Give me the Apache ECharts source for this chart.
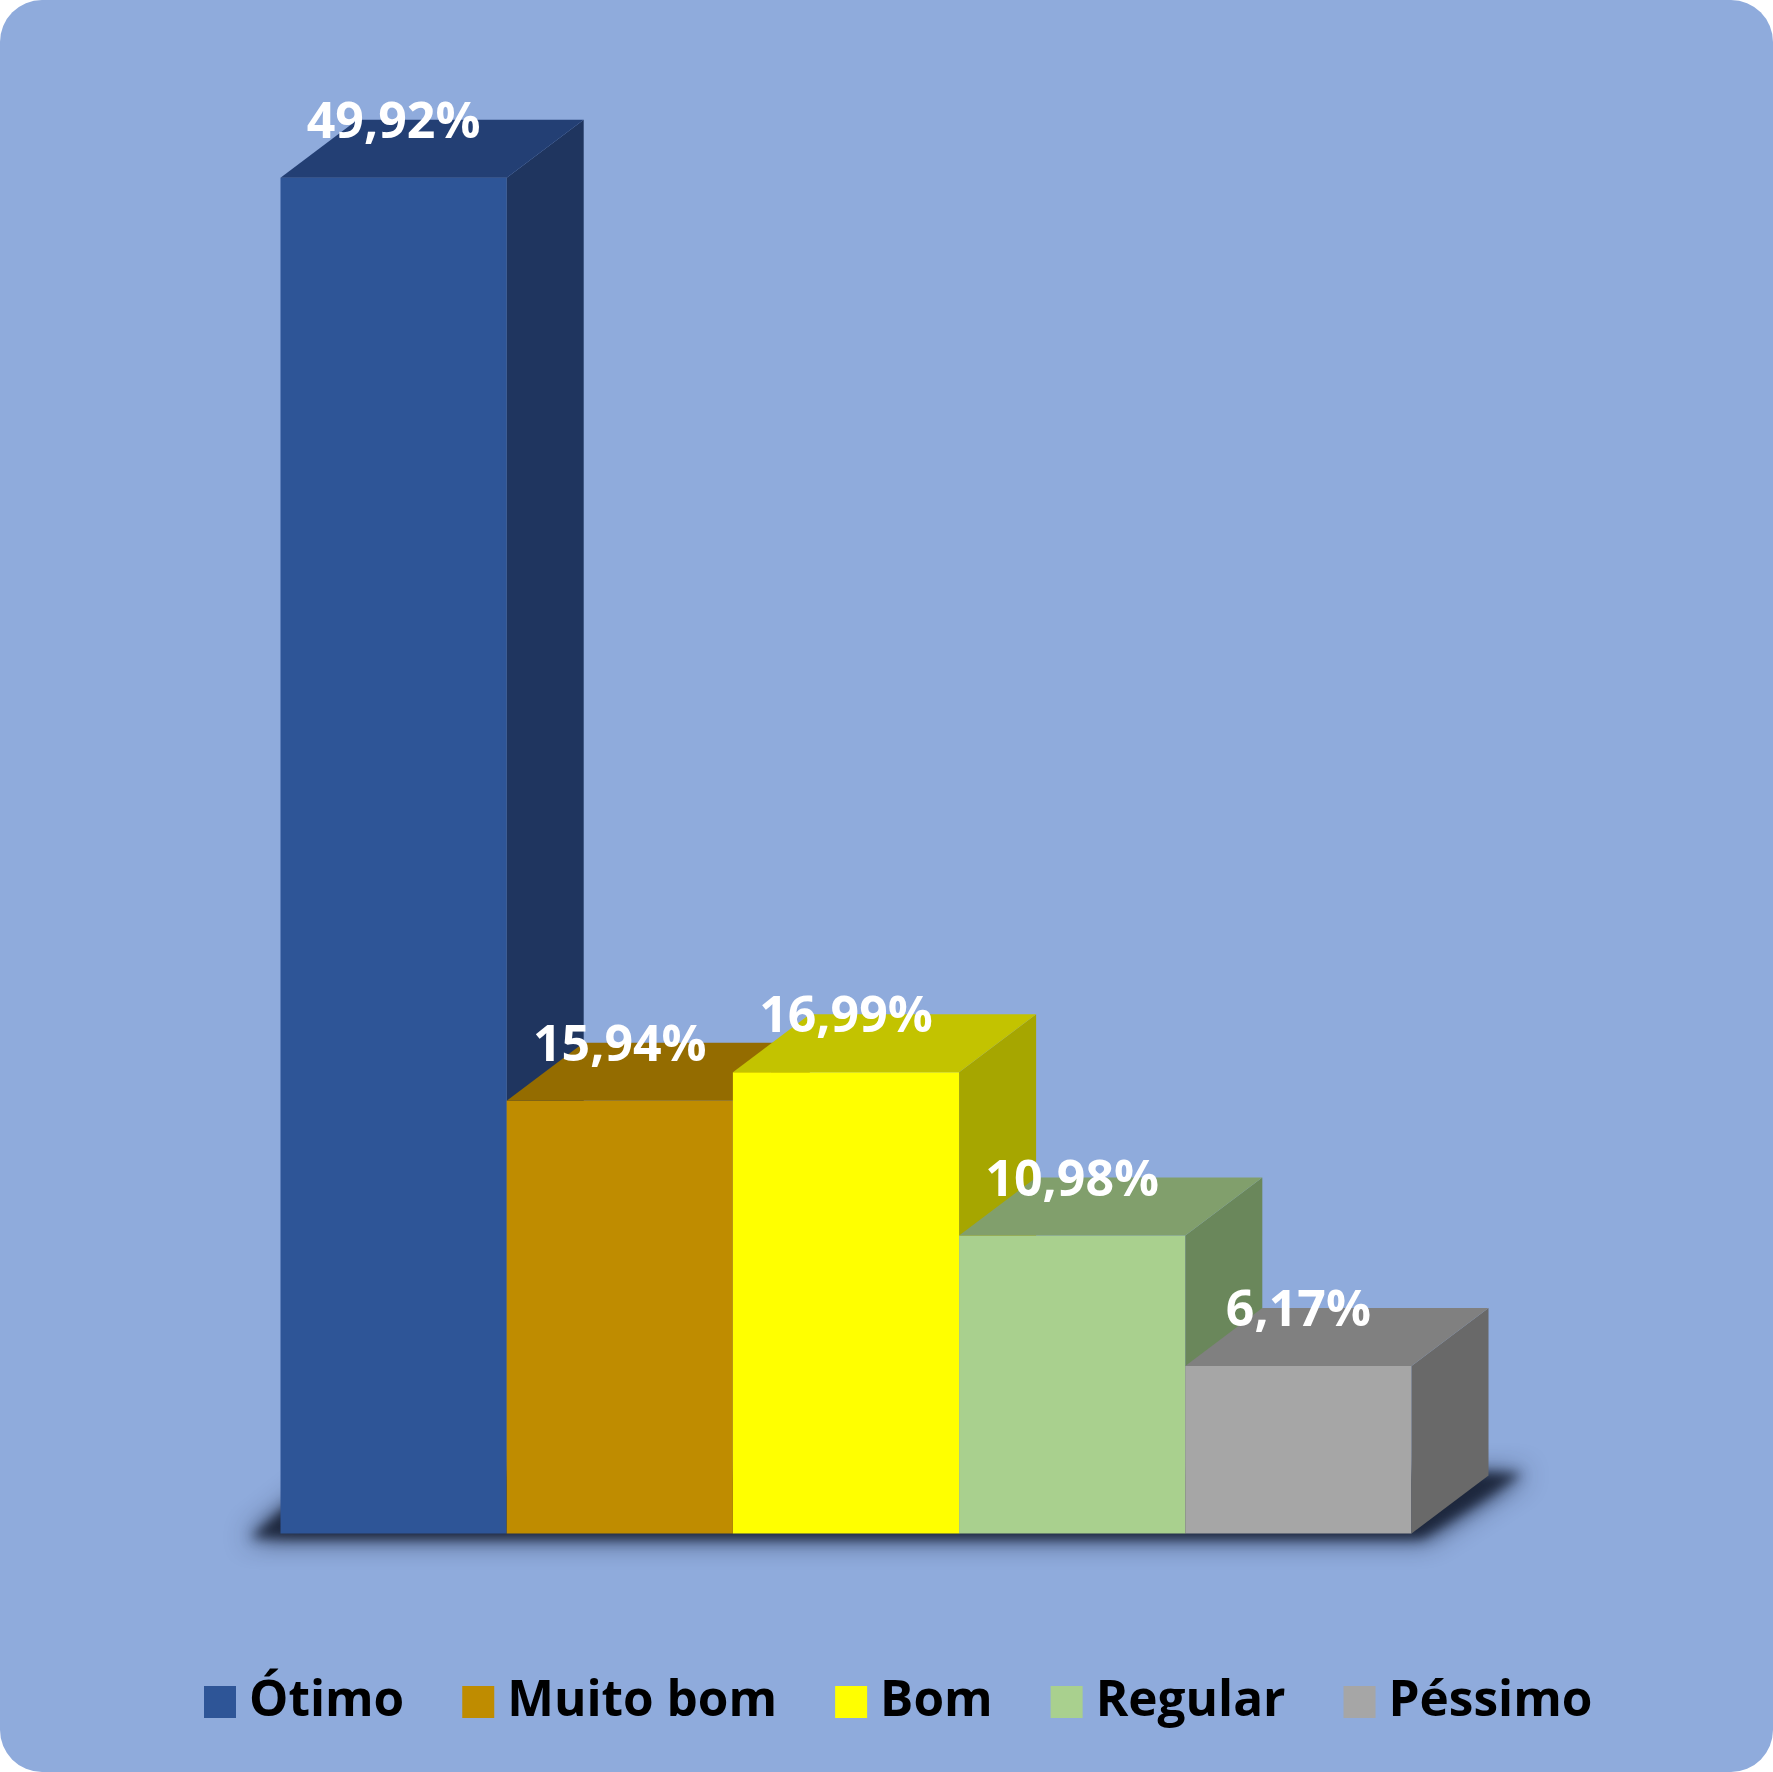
<!DOCTYPE html>
<html>
<head>
<meta charset="utf-8">
<script src="https://cdn.jsdelivr.net/npm/echarts/dist/echarts.min.js"></script>
<style>
html,body{margin:0;padding:0;background:#ffffff;}
#c{width:1773px;height:1772px;background:#8FABDC;border-radius:42px;overflow:hidden;}
</style>
</head>
<body>
<div id="c"></div>
<script>
const categories = ['Ótimo', 'Muito bom', 'Bom', 'Regular', 'Péssimo'];
const values = [49.92, 15.94, 16.99, 10.98, 6.17];
const frontColors = ['#2E5597', '#BF8C00', '#FFFF00', '#A9D08E', '#A6A6A6'];
const topColors = ['#233F74', '#946C00', '#C3C300', '#819F6C', '#808080'];
const sideColors = ['#1F355F', '#7A5A00', '#A6A600', '#6A875B', '#696969'];

const DX = 77, DY = 58;
const OFF = 3000;
function fmt(v) { return v.toFixed(2).replace('.', ',') + '%'; }

const chart = echarts.init(document.getElementById('c'), null, {renderer: 'canvas', devicePixelRatio: 1});

function shadowPoly(L, R, B, grow) {
  const pts = [[L - 30 - grow, B + 4 + grow / 3], [R + 10 + grow, B + 4 + grow / 3], [R + DX + 34 + grow, B - DY - 2], [L + DX - 30, B - DY]];
  return pts.map(function (p) { return [p[0], p[1] + OFF]; });
}

const series = [{
  type: 'custom',
  name: 'shadow',
  silent: true,
  z: 1,
  clip: false,
  data: [[0, 0]],
  renderItem: function (params, api) {
    const w = api.size([1, 0])[0];
    const a = api.coord([0, 0]);
    const b = api.coord([categories.length - 1, 0]);
    const L = a[0] - w / 2, R = b[0] + w / 2, B = a[1];
    return {
      type: 'group',
      children: [
        {type: 'polygon', shape: {points: shadowPoly(L, R, B, 4)},
          style: {fill: '#1f2a44', shadowBlur: 26, shadowOffsetY: -OFF, shadowColor: 'rgba(28,38,62,0.9)'}},
        {type: 'polygon', shape: {points: shadowPoly(L, R, B, 0)},
          style: {fill: '#1f2a44', shadowBlur: 12, shadowOffsetY: -OFF, shadowColor: 'rgba(30,40,62,1)'}}
      ]
    };
  }
}];

categories.forEach(function (c, i) {
  series.push({
    type: 'custom',
    name: c,
    z: 2,
    itemStyle: {color: frontColors[i]},
    data: [[i, values[i]]],
    renderItem: function (params, api) {
      const idx = api.value(0), v = api.value(1);
      const w = api.size([1, 0])[0];
      const p0 = api.coord([idx, 0]);
      const p1 = api.coord([idx, v]);
      const l = p0[0] - w / 2, r = p0[0] + w / 2, yb = p0[1], yt = p1[1];
      return {
        type: 'group',
        children: [
          {type: 'rect', shape: {x: l, y: yt, width: w, height: yb - yt}, style: {fill: frontColors[i]}},
          {type: 'polygon', shape: {points: [[r, yt], [r + DX, yt - DY], [r + DX, yb - DY], [r, yb]]}, style: {fill: sideColors[i]}},
          {type: 'polygon', shape: {points: [[l, yt], [l + DX, yt - DY], [r + DX, yt - DY], [r, yt]]}, style: {fill: topColors[i]}},
          {type: 'text', z2: 10, style: {text: fmt(v), x: (l + r) / 2, y: yt - 54, textAlign: 'center', textVerticalAlign: 'middle',
            fill: '#ffffff', font: 'bold 50px "Open Sans"'}}
        ]
      };
    }
  });
});

chart.setOption({
  animation: false,
  backgroundColor: 'transparent',
  grid: {left: 280.5, right: 361.5, top: 175.6, bottom: 238.4},
  xAxis: {type: 'category', data: categories, show: false, boundaryGap: true},
  yAxis: {type: 'value', min: 0, max: 50, show: false, splitLine: {show: false}},
  legend: {
    data: categories,
    left: 199,
    top: 1667,
    icon: 'rect',
    itemWidth: 32,
    itemHeight: 32,
    itemGap: 58,
    textStyle: {fontSize: 49.5, fontWeight: 'bold', color: '#000000', fontFamily: 'Open Sans', lineHeight: 60, padding: [0, 0, 0, 8]}
  },
  series: series
});
</script>
</body>
</html>
